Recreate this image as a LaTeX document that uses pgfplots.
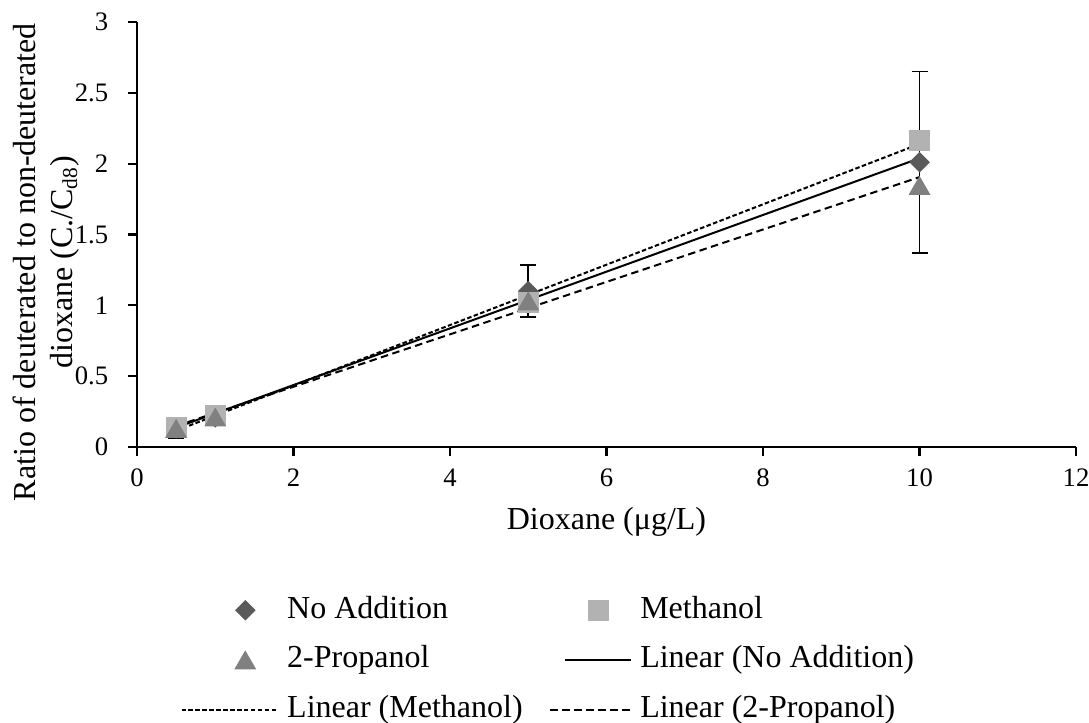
\documentclass[border=0pt]{standalone}
\usepackage{fontspec}
\setmainfont{Liberation Serif}
\usepackage{pgfplots}
\pgfplotsset{compat=1.18}

\definecolor{noadd}{RGB}{90,90,90}
\definecolor{meth}{RGB}{178,178,178}
\definecolor{prop}{RGB}{128,128,128}

% legend samples: a single centred mark, or a line starting at a given offset
\pgfplotsset{
  markimg/.style={legend image code/.code={\draw[##1] plot coordinates {(12.4pt,0pt)};}},
  lineimg/.style={legend image code/.code={\draw[##1] (#1,0pt) -- (24.75pt,0pt);}},
}

\begin{document}
\begin{tikzpicture}
\useasboundingbox (-51.375pt,-103.5pt) rectangle (357pt,167.625pt);
\begin{axis}[
  at={(0,0)}, anchor=south west,
  scale only axis,
  width=352.125pt, height=159.375pt,
  xmin=0, xmax=12, ymin=0, ymax=3,
  xtick={0,2,...,12},
  ytick={0,0.5,...,3},
  axis lines*=left,
  axis line style={line width=1pt},
  tick align=outside,
  tick style={line width=0.8pt, black},
  major tick length=3.3pt,
  /pgf/number format/assume math mode=true,
  tick label style={font=\fontsize{10}{12}\selectfont},
  xticklabel style={yshift=-1.5pt},
  yticklabel style={xshift=-4pt},
  label style={font=\fontsize{12}{13.9}\selectfont},
  xlabel={Dioxane (μg/L)},
  ylabel={Ratio of deuterated to non-deuterated\\dioxane (C./C\textsubscript{d8})},
  xlabel style={at={(axis description cs:0.5,-0.176)}, anchor=center},
  ylabel style={at={(axis description cs:-0.097,0.435)}, anchor=center, align=center},
  legend columns=2,
  legend cell align=left,
  legend style={
    at={(axis description cs:0.0458,-0.348)}, anchor=north west,
    draw=none, fill=none, inner sep=0pt,
    font=\fontsize{12}{12}\selectfont,
    nodes={inner sep=0pt, text height=8.5pt, text depth=2.6pt},
    /tikz/every odd column/.append style={column sep=3pt},
    /tikz/every even column/.append style={column sep=10pt},
    /tikz/row sep=7.6pt,
  },
]

% measured ratios with standard deviation (No Addition)
\addplot[only marks, mark=square*, mark size=2.52pt,
  mark options={rotate=45, fill=noadd, draw=noadd},
  markimg,
  error bars/.cd, y dir=both, y explicit,
  error bar style={line width=0.65pt, black},
  error mark options={rotate=90, mark size=3pt, line width=0.65pt, black}]
  coordinates {
    (0.5,0.13) +- (0,0.07)
    (1,0.21)   +- (0,0.02)
    (5,1.10)   +- (0,0.183)
    (10,2.01)  +- (0,0.641)
  };
\addlegendentry{No Addition}

\addplot[only marks, mark=square*, mark size=3.75pt,
  mark options={fill=meth, draw=meth}, markimg]
  coordinates {(0.5,0.14) (1,0.22) (5,1.017) (10,2.166)};
\addlegendentry{Methanol}

\addplot[only marks, mark=triangle*, mark size=4.33pt,
  mark options={fill=prop, draw=prop, yshift=-1.08pt}, markimg]
  coordinates {(0.5,0.13) (1,0.21) (5,1.03) (10,1.845)};
\addlegendentry{2-Propanol}

% least-squares trend lines
\addplot[black, line width=0.75pt, mark=none, lineimg=0pt]
  coordinates {(0.5,0.137) (10,2.038)};
\addlegendentry{Linear (No Addition)}

\addplot[black, line width=0.75pt, mark=none, dash pattern=on 1.7pt off 0.9pt, lineimg=-11.5pt]
  coordinates {(0.5,0.115) (10,2.139)};
\addlegendentry{Linear (Methanol)}

\addplot[black, line width=0.75pt, mark=none, dash pattern=on 2.8pt off 1.7pt, lineimg=-5.6pt]
  coordinates {(0.5,0.148) (10,1.905)};
\addlegendentry{Linear (2-Propanol)}

\end{axis}
\end{tikzpicture}
\end{document}
